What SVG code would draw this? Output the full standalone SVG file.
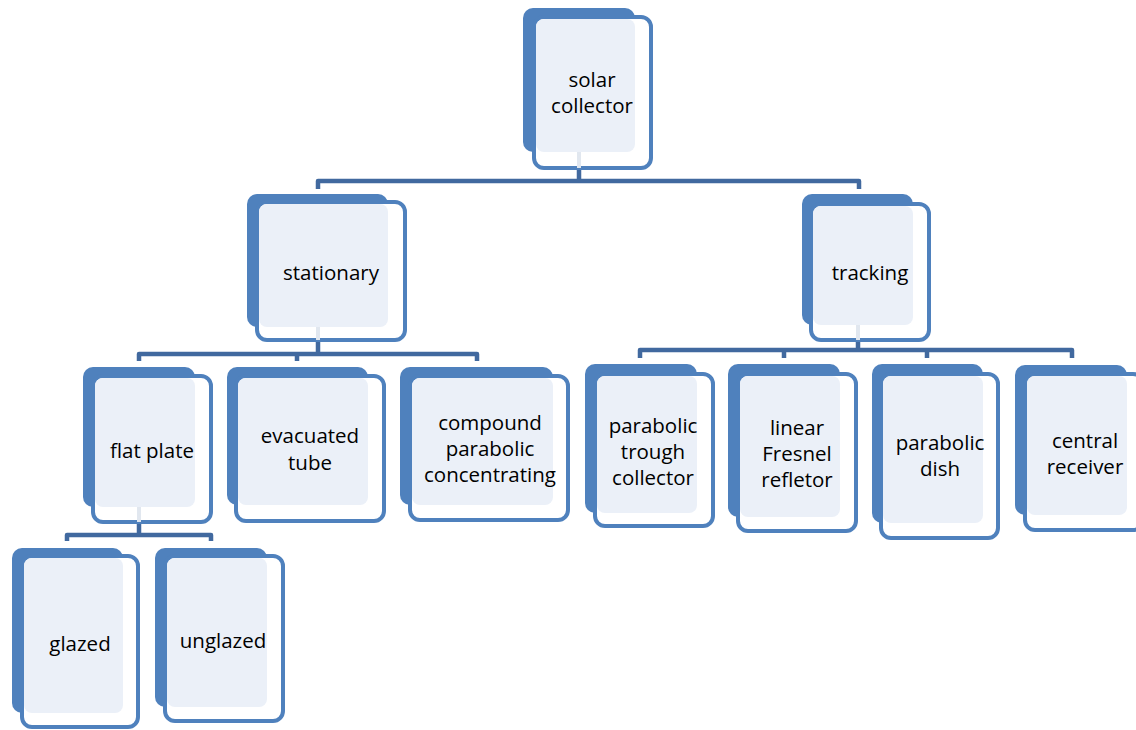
<svg xmlns="http://www.w3.org/2000/svg" width="1136" height="730" viewBox="0 0 1136 730">
<style>
.bk{fill:#4F81BD}
.fr{fill:#FFFFFF;stroke:#4F81BD;stroke-width:4}
.lt{fill:#EBF0F8}
.t{font-family:"Open Sans","Liberation Sans",sans-serif;font-size:20.5px;fill:#000;text-anchor:middle;dominant-baseline:central}
.c{fill:none;stroke:#41699F;stroke-width:4.5;stroke-linejoin:round}
.cl{fill:none;stroke:#E1E7EF;stroke-width:4}
</style>
<rect width="1136" height="730" fill="#FFFFFF"/>
<g id="connectors">
<path class="c" d="M318,189 V181 H859 V189 M579,170 V181"/>
<path class="c" d="M139,361 V354 H477 V361 M297,354 V361 M318,342 V354"/>
<path class="c" d="M640,358 V350 H1072 V358 M784,350 V358 M927,350 V358 M858,342 V350"/>
<path class="c" d="M67,541 V535 H211 V541 M139,524 V535"/>
</g>
<g id="solar-collector">
<rect class="bk" x="523" y="8" width="112" height="144" rx="10"/>
<rect class="fr" x="534" y="17" width="117" height="151" rx="10"/>
<rect class="lt" x="536" y="19" width="99" height="133" rx="8"/>
<text class="t" x="592" y="79">solar</text>
<text class="t" x="592" y="105">collector</text>
</g>
<g id="stationary">
<rect class="bk" x="247" y="194" width="141" height="133" rx="10"/>
<rect class="fr" x="257" y="202" width="148" height="138" rx="10"/>
<rect class="lt" x="259" y="204" width="129" height="123" rx="8"/>
<text class="t" x="331" y="272">stationary</text>
</g>
<g id="tracking">
<rect class="bk" x="802" y="194" width="111" height="131" rx="10"/>
<rect class="fr" x="811" y="204" width="118" height="136" rx="10"/>
<rect class="lt" x="813" y="206" width="100" height="119" rx="8"/>
<text class="t" x="870" y="272">tracking</text>
</g>
<g id="flat-plate">
<rect class="bk" x="83" y="367" width="112" height="140" rx="10"/>
<rect class="fr" x="93" y="376" width="118" height="146" rx="10"/>
<rect class="lt" x="95" y="378" width="100" height="129" rx="8"/>
<text class="t" x="152" y="450">flat plate</text>
</g>
<g id="evacuated-tube">
<rect class="bk" x="227" y="367" width="141" height="138" rx="10"/>
<rect class="fr" x="236" y="376" width="148" height="145" rx="10"/>
<rect class="lt" x="238" y="378" width="130" height="127" rx="8"/>
<text class="t" x="310" y="435">evacuated</text>
<text class="t" x="310" y="462">tube</text>
</g>
<g id="compound-parabolic">
<rect class="bk" x="400" y="367" width="153" height="138" rx="10"/>
<rect class="fr" x="410" y="376" width="158" height="144" rx="10"/>
<rect class="lt" x="412" y="378" width="141" height="127" rx="8"/>
<text class="t" x="490" y="422">compound</text>
<text class="t" x="490" y="448">parabolic</text>
<text class="t" x="490" y="474">concentrating</text>
</g>
<g id="parabolic-trough">
<rect class="bk" x="585" y="364" width="112" height="149" rx="10"/>
<rect class="fr" x="595" y="374" width="118" height="152" rx="10"/>
<rect class="lt" x="597" y="376" width="100" height="137" rx="8"/>
<text class="t" x="653" y="425">parabolic</text>
<text class="t" x="653" y="451">trough</text>
<text class="t" x="653" y="477">collector</text>
</g>
<g id="linear-fresnel">
<rect class="bk" x="728" y="364" width="112" height="153" rx="10"/>
<rect class="fr" x="738" y="374" width="118" height="157" rx="10"/>
<rect class="lt" x="740" y="376" width="100" height="141" rx="8"/>
<text class="t" x="797" y="427">linear</text>
<text class="t" x="797" y="453">Fresnel</text>
<text class="t" x="797" y="479">refletor</text>
</g>
<g id="parabolic-dish">
<rect class="bk" x="872" y="364" width="111" height="159" rx="10"/>
<rect class="fr" x="881" y="374" width="117" height="164" rx="10"/>
<rect class="lt" x="883" y="376" width="100" height="147" rx="8"/>
<text class="t" x="940" y="442">parabolic</text>
<text class="t" x="940" y="468">dish</text>
</g>
<g id="central-receiver">
<rect class="bk" x="1015" y="365" width="112" height="150" rx="10"/>
<rect class="fr" x="1025" y="374" width="118" height="156" rx="10"/>
<rect class="lt" x="1027" y="376" width="100" height="139" rx="8"/>
<text class="t" x="1085" y="440">central</text>
<text class="t" x="1085" y="466">receiver</text>
</g>
<g id="glazed">
<rect class="bk" x="12" y="548" width="111" height="165" rx="10"/>
<rect class="fr" x="22" y="556" width="116" height="171" rx="10"/>
<rect class="lt" x="24" y="558" width="99" height="155" rx="8"/>
<text class="t" x="80" y="643">glazed</text>
</g>
<g id="unglazed">
<rect class="bk" x="155" y="548" width="112" height="159" rx="10"/>
<rect class="fr" x="165" y="556" width="118" height="165" rx="10"/>
<rect class="lt" x="167" y="558" width="100" height="149" rx="8"/>
<text class="t" x="223" y="640">unglazed</text>
</g>
<g id="connector-passthrough">
<path class="cl" d="M579,152 V168 M318,327 V340 M858,325 V340 M139,507 V522"/>
</g>
</svg>
